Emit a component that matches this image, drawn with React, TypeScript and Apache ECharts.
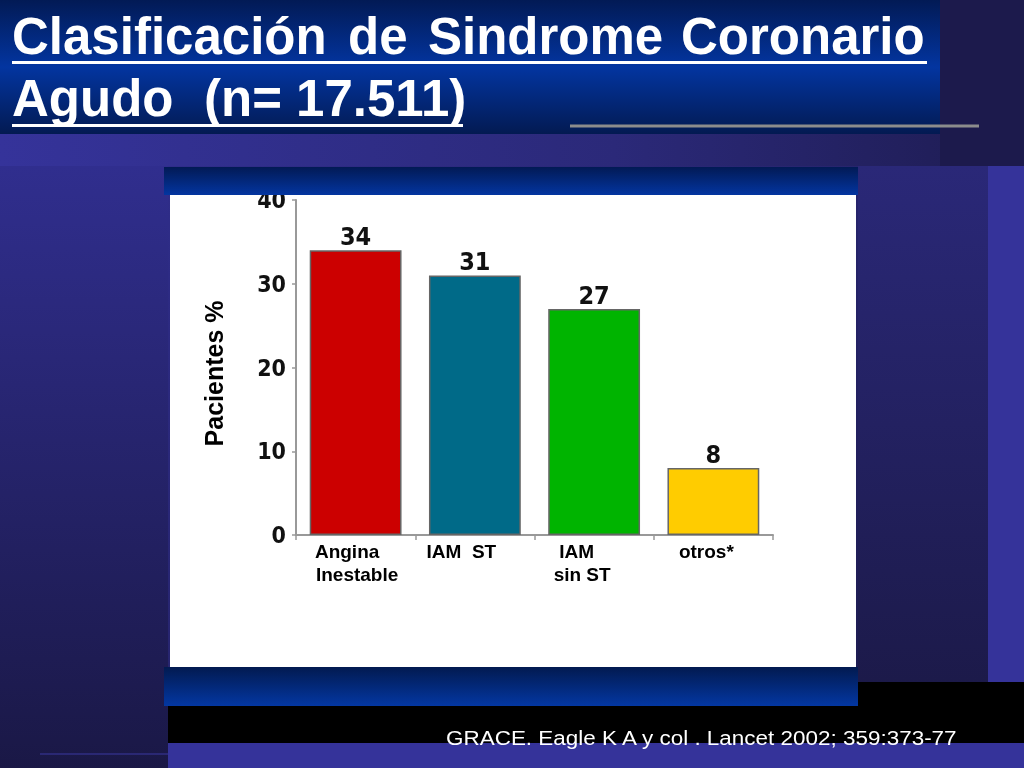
import React, { useEffect, useRef } from "react";
import * as echarts from "echarts";

const categories = ["Angina Inestable", "IAM  ST", "IAM sin ST", "otros*"];
const values = [34, 31, 27, 8];
const barColors = ["#cc0000", "#006a88", "#00b400", "#ffcc00"];
const yMin = 0;
const yMax = 40;
const yInterval = 10;
const xLabelLines = [["Angina", "Inestable"], ["IAM  ST"], ["IAM", "sin ST"], ["otros*"]];
const titleLine1 = ["Clasificación", "de", "Sindrome", "Coronario"];
const titleLine2 = ["Agudo", "(n= 17.511)"];
const yAxisName = "Pacientes %";
const sourceText = "GRACE. Eagle K A y col . Lancet 2002; 359:373-77";

const SANS = '"Liberation Sans", Arial, sans-serif';
const NUM = '"DejaVu Sans Condensed", "DejaVu Sans", sans-serif';

const labelPads: number[][] = [[17, -3], [27], [35, 24], [14]];

function lg(stops: [number, string][], x2 = 0, y2 = 1) {
  return new echarts.graphic.LinearGradient(0, 0, x2, y2, stops.map(([offset, color]) => ({ offset, color })));
}

export default function App() {
  const ref = useRef<HTMLDivElement>(null);
  useEffect(() => {
    if (!ref.current) return;
    const chart = echarts.init(ref.current, undefined, { renderer: "svg" });

    const rich: Record<string, any> = {};
    xLabelLines.forEach((lines, i) =>
      lines.forEach((_, j) => {
        const p = labelPads[i][j];
        rich[`c${i}_${j}`] = {
          fontFamily: SANS,
          fontWeight: "bold",
          fontSize: 19,
          color: "#000",
          lineHeight: 23,
          padding: p >= 0 ? [0, p, 0, 0] : [0, 0, 0, -p],
        };
      })
    );

    const titleX1 = [12, 348, 428, 681];
    const titleX2 = [12, 204];
    const titleFont = `bold 51px ${SANS}`;

    const graphicEls: any[] = [
      { type: "rect", z: 0, shape: { x: 0, y: 0, width: 1024, height: 768 }, style: { fill: lg([[0, "#34329a"], [1, "#1a1846"]], 1, 1) } },
      { type: "rect", z: 0, shape: { x: 0, y: 166, width: 168, height: 602 }, style: { fill: lg([[0, "#302e8e"], [1, "#1a1846"]]) } },
      { type: "rect", z: 0, shape: { x: 0, y: 133, width: 1024, height: 33 }, style: { fill: lg([[0, "#35339a"], [0.6, "#2b2979"], [1, "#1e1c52"]], 1, 0) } },
      { type: "rect", z: 0, shape: { x: 940, y: 0, width: 84, height: 166 }, style: { fill: "#1c1a4c" } },
      { type: "rect", z: 0, shape: { x: 0, y: 0, width: 940, height: 134 }, style: { fill: lg([[0, "#021a55"], [0.5, "#0335a0"], [1, "#031a52"]]) } },
      { type: "rect", z: 0, shape: { x: 858, y: 166, width: 130, height: 516 }, style: { fill: lg([[0, "#2a2878"], [1, "#1c1a4a"]]) } },
      { type: "rect", z: 0, shape: { x: 988, y: 166, width: 36, height: 516 }, style: { fill: "#35339a" } },
      { type: "rect", z: 0, shape: { x: 168, y: 682, width: 856, height: 61 }, style: { fill: "#000000" } },
      { type: "rect", z: 0, shape: { x: 168, y: 743, width: 856, height: 25 }, style: { fill: "#35339a" } },
      { type: "line", z: 1, shape: { x1: 40, y1: 754, x2: 168, y2: 754 }, style: { stroke: "#3a38a0", lineWidth: 1 } },
      { type: "rect", z: 1, shape: { x: 170, y: 195, width: 686, height: 472 }, style: { fill: "#ffffff" } },
      { type: "rect", z: 20, shape: { x: 164, y: 167, width: 694, height: 28 }, style: { fill: lg([[0, "#021a55"], [1, "#0335a0"]]) } },
      { type: "rect", z: 20, shape: { x: 164, y: 667, width: 694, height: 39 }, style: { fill: lg([[0, "#021a50"], [1, "#0337a2"]]) } },
      { type: "line", z: 21, shape: { x1: 570, y1: 126, x2: 979, y2: 126 }, style: { stroke: "#8c8c8c", lineWidth: 3 } },
      { type: "line", z: 21, shape: { x1: 12, y1: 62.5, x2: 927, y2: 62.5 }, style: { stroke: "#ffffff", lineWidth: 3 } },
      { type: "line", z: 21, shape: { x1: 12, y1: 125.5, x2: 463, y2: 125.5 }, style: { stroke: "#ffffff", lineWidth: 3 } },
    ];
    titleLine1.forEach((w, i) =>
      graphicEls.push({ type: "text", z: 22, x: titleX1[i], y: 36.5, style: { text: w, fill: "#ffffff", font: titleFont, align: "left", verticalAlign: "middle" } })
    );
    titleLine2.forEach((w, i) =>
      graphicEls.push({ type: "text", z: 22, x: titleX2[i], y: 98, style: { text: w, fill: "#ffffff", font: titleFont, align: "left", verticalAlign: "middle" } })
    );
    graphicEls.push({
      type: "text", z: 22, x: 446, y: 737.5, scaleX: 1.07,
      style: { text: sourceText, fill: "#ffffff", font: `21px ${SANS}`, align: "left", verticalAlign: "middle" },
    });

    chart.setOption({
      animation: false,
      backgroundColor: "transparent",
      graphic: { elements: graphicEls },
      grid: { left: 296, right: 251, top: 200, bottom: 233, containLabel: false },
      xAxis: {
        type: "category",
        data: categories,
        z: 5,
        axisLine: { lineStyle: { color: "#999999", width: 2 } },
        axisTick: { show: true, length: 5, lineStyle: { color: "#999999", width: 1.5 } },
        axisLabel: {
          margin: 5,
          interval: 0,
          formatter: (_v: string, idx: number) =>
            xLabelLines[idx].map((t, j) => `{c${idx}_${j}|${t}}`).join("\n"),
          rich,
        },
      },
      yAxis: {
        type: "value",
        min: yMin,
        max: yMax,
        interval: yInterval,
        z: 5,
        name: yAxisName,
        nameLocation: "middle",
        nameRotate: 90,
        nameGap: 70,
        nameTextStyle: { fontFamily: SANS, fontWeight: "bold", fontSize: 25, color: "#000", padding: [0, 12, 0, 0] },
        axisLine: { show: true, lineStyle: { color: "#999999", width: 2 } },
        axisTick: { show: true, length: 4, lineStyle: { color: "#999999", width: 1.5 } },
        splitLine: { show: false },
        axisLabel: { margin: 10, fontFamily: NUM, fontWeight: "bold", fontSize: 23, color: "#111" },
      },
      series: [
        {
          type: "bar",
          z: 6,
          barWidth: "77%",
          data: values.map((v, i) => ({
            value: v,
            itemStyle: { color: barColors[i], borderColor: "#666666", borderWidth: 1.5 },
          })),
          label: {
            show: true,
            position: "top",
            distance: 1,
            fontFamily: NUM,
            fontWeight: "bold",
            fontSize: 25,
            color: "#111",
          },
        },
      ],
    });
    return () => chart.dispose();
  }, []);
  return <div ref={ref} style={{ position: "fixed", left: 0, top: 0, width: 1024, height: 768 }} />;
}
